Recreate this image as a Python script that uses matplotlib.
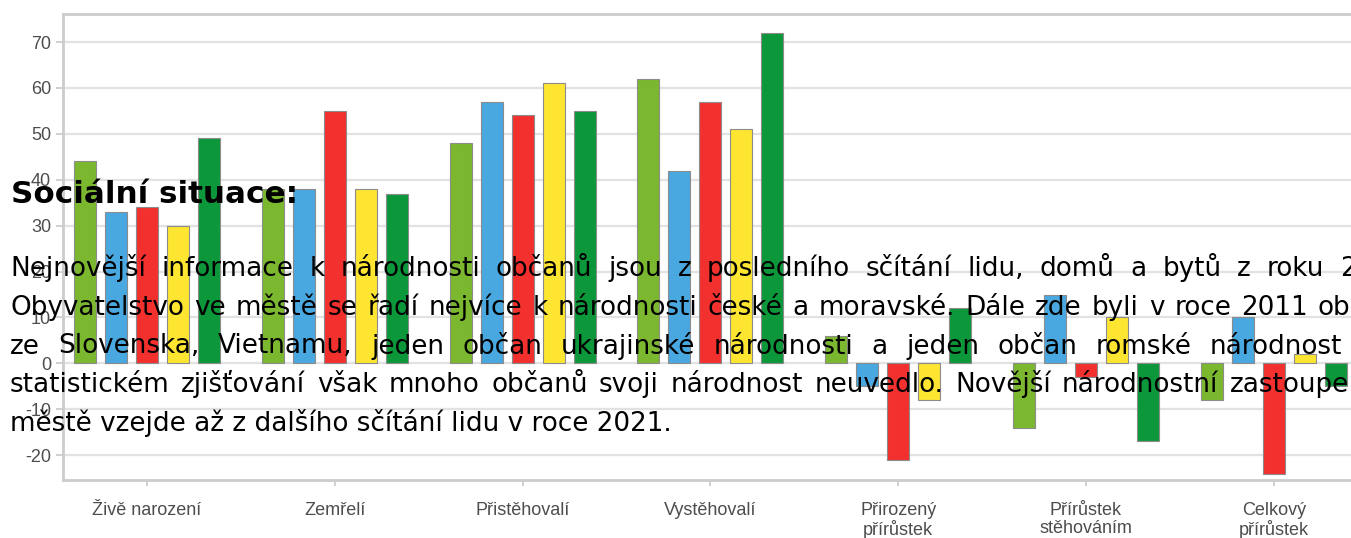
import matplotlib.pyplot as plt
import numpy as np

plt.rcParams['axes.unicode_minus'] = False

# chart data
categories = ['Živě narození', 'Zemřelí', 'Přistěhovalí', 'Vystěhovalí',
              'Přirozený\npřírůstek', 'Přírůstek\nstěhováním', 'Celkový\npřírůstek']
light_green = [44, 38, 48, 62, 6, -14, -8]
blue = [33, 38, 57, 42, -5, 15, 10]
red = [34, 55, 54, 57, -21, -3, -24]
yellow = [30, 38, 61, 51, -8, 10, 2]
dark_green = [49, 37, 55, 72, 12, -17, -5]
yticks = [-20, -10, 0, 10, 20, 30, 40, 50, 60, 70]

# overlaid page text
title = 'Sociální situace:'
lines = [
    'Nejnovější informace k národnosti občanů jsou z posledního sčítání lidu, domů a bytů z roku 2',
    'Obyvatelstvo ve městě se řadí nejvíce k národnosti české a moravské. Dále zde byli v roce 2011 ob',
    'ze Slovenska, Vietnamu, jeden občan ukrajinské národnosti a jeden občan romské národnost',
    'statistickém zjišťování však mnoho občanů svoji národnost neuvedlo. Novější národnostní zastoupe',
    'městě vzejde až z dalšího sčítání lidu v roce 2021.',
]
last_word_x = [1340, 1318, 1210, 1230, None]  # justified lines: where the last visible word starts (px)

W, H = 1351, 538
fig = plt.figure(figsize=(W / 100, H / 100), dpi=100)
ax = fig.add_axes([63 / W, 1 - 480 / H, 1 - 63 / W, (480 - 14) / H])

series = [light_green, blue, red, yellow, dark_green]
colors = ['#7cb82f', '#4aa8e0', '#f2312f', '#fde532', '#0b973a']
x = np.arange(len(categories))
step = 0.165
width = 0.117
for i, (vals, c) in enumerate(zip(series, colors)):
    ax.bar(x + (i - 2) * step, vals, width, color=c, edgecolor='#8c8c8c',
           linewidth=0.8, zorder=3)

ax.set_xlim(-0.447, 6.411)
ax.set_ylim(-25.4, 76.1)
ax.set_yticks(yticks)
ax.set_xticks(x)
ax.set_xticklabels(categories, fontfamily='Liberation Sans', fontsize=13,
                   color='#4d4d4d', linespacing=1.12)
for lab in ax.get_yticklabels():
    lab.set_fontfamily('Liberation Sans')
    lab.set_fontsize(13)
    lab.set_color('#4d4d4d')
ax.tick_params(axis='y', length=5, width=1.2, color='#c8c8c8', pad=3.5)
ax.tick_params(axis='x', length=4, width=1.2, color='#c8c8c8', pad=11.5)
ax.grid(axis='y', color='#e2e2e2', linewidth=1.6, zorder=0)
for side in ['left', 'top', 'bottom']:
    ax.spines[side].set_color('#cccccc')
    ax.spines[side].set_linewidth(2)
ax.spines['right'].set_visible(False)

# overlaid text from the web page
fig.text(11 / W, 1 - 203 / H, title, fontsize=22.3, fontweight='bold',
         fontfamily='DejaVu Sans', va='baseline', zorder=10)

renderer = fig.canvas.get_renderer()
fs = 18.9
baseline0 = 276
gap = 38.75
for k, (line, xl) in enumerate(zip(lines, last_word_x)):
    yb = 1 - (baseline0 + k * gap) / H
    if xl is None:
        fig.text(10 / W, yb, line, fontsize=fs, fontfamily='DejaVu Sans',
                 va='baseline', zorder=10)
        continue
    words = line.split(' ')
    txts = [fig.text(0, yb, w_, fontsize=fs, fontfamily='DejaVu Sans',
                     va='baseline', zorder=10) for w_ in words]
    widths = [t.get_window_extent(renderer).width for t in txts]
    space = (xl - 10 - sum(widths[:-1])) / (len(words) - 1)
    pos = 10
    for t, wd in zip(txts, widths):
        t.set_x(pos / W)
        pos += wd + space

fig.savefig('out.png', dpi=100)
